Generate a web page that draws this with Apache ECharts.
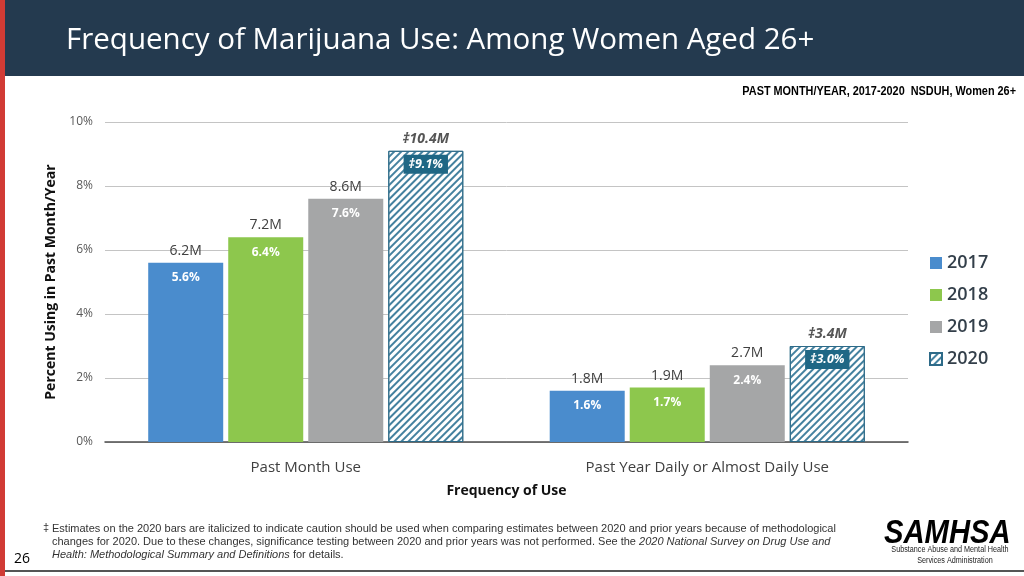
<!DOCTYPE html>
<html>
<head>
<meta charset="utf-8">
<script src="https://cdn.jsdelivr.net/npm/echarts@6/dist/echarts.min.js"></script>
<style>
html,body{margin:0;padding:0;background:#fff;}
#chart{width:1024px;height:576px;}
</style>
</head>
<body>
<div id="chart"></div>
<script>
const categories = ['Past Month Use', 'Past Year Daily or Almost Daily Use'];
const years = ['2017', '2018', '2019', '2020'];
const pct2017 = [5.6, 1.6];
const pct2018 = [6.4, 1.7];
const pct2019 = [7.6, 2.4];
const pct2020 = [9.1, 3.0];
const cnt2017 = ['6.2M', '1.8M'];
const cnt2018 = ['7.2M', '1.9M'];
const cnt2019 = ['8.6M', '2.7M'];
const cnt2020 = ['10.4M', '3.4M'];
const yTicks = [0, 2, 4, 6, 8, 10];

const pcts = [pct2017, pct2018, pct2019, pct2020];
const cnts = [cnt2017, cnt2018, cnt2019, cnt2020];
const colors = ['#4a8ccd', '#8dc74d', '#a5a6a7', '#ffffff'];
const FONT = 'Open Sans';

const hatch = {
  symbol: 'rect', symbolSize: 1, dashArrayX: [1, 0], dashArrayY: [1.3, 3],
  rotation: -Math.PI / 4, color: '#44819f'
};

const series = [];
years.forEach((y, i) => {
  const is2020 = i === 3;
  series.push({
    name: y, type: 'bar', xAxisIndex: 0, barWidth: 75, barGap: '6.7%',
    data: pcts[i],
    itemStyle: is2020
      ? { color: '#ffffff', borderColor: '#2d6a88', borderWidth: 1, decal: hatch }
      : { color: colors[i] },
    label: {
      show: true, position: 'insideTop',
      distance: is2020 ? 4 : 9,
      formatter: p => (is2020 ? '‡' : '') + p.value.toFixed(1) + '%',
      color: '#ffffff', fontFamily: FONT, fontWeight: 'bold', fontSize: is2020 ? 12.5 : 12,
      fontStyle: is2020 ? 'italic' : 'normal',
      backgroundColor: is2020 ? '#1f6785' : 'transparent',
      padding: is2020 ? [3, 5] : 0
    },
    emphasis: { disabled: true }
  });
});
years.forEach((y, i) => {
  const is2020 = i === 3;
  series.push({
    name: 'cnt' + y, type: 'bar', xAxisIndex: 1, barWidth: 75, barGap: '6.7%',
    data: pcts[i],
    itemStyle: { color: 'rgba(0,0,0,0)' },
    label: {
      show: true, position: 'top', distance: 5,
      formatter: p => (is2020 ? '‡' : '') + cnts[i][p.dataIndex],
      color: is2020 ? '#555555' : '#404040', fontFamily: FONT, fontSize: 14,
      fontStyle: is2020 ? 'italic' : 'normal',
      fontWeight: is2020 ? 'bold' : 'normal'
    },
    silent: true,
    emphasis: { disabled: true }
  });
});

const chart = echarts.init(document.getElementById('chart'));
chart.setOption({
  animation: false,
  backgroundColor: '#ffffff',
  textStyle: { fontFamily: FONT },
  grid: { left: 105, right: 116, top: 122, bottom: 134, containLabel: false },
  legend: {
    data: years, orient: 'vertical', left: 929, top: 254, padding: 0,
    itemWidth: 12, itemHeight: 12, itemGap: 14, icon: 'rect',
    textStyle: { fontFamily: FONT, fontSize: 18, fontWeight: 600, color: '#333f4a' }
  },
  xAxis: [{
    type: 'category', data: categories,
    axisTick: { show: false },
    axisLine: { lineStyle: { color: '#4d4d4d', width: 1.5 } },
    axisLabel: { color: '#404040', fontSize: 15, fontFamily: FONT, margin: 18 },
    name: 'Frequency of Use', nameLocation: 'middle', nameGap: 42,
    nameTextStyle: { color: '#111', fontSize: 14, fontWeight: 'bold', fontFamily: FONT }
  }, {
    type: 'category', data: categories, show: false
  }],
  yAxis: {
    type: 'value', min: 0, max: 10, interval: 2,
    axisLabel: { formatter: '{value}%', color: '#595959', fontSize: 12, fontFamily: FONT, margin: 12 },
    splitLine: { lineStyle: { color: '#c4c4c4', width: 1 } },
    axisLine: { show: false }, axisTick: { show: false },
    name: 'Percent Using in Past Month/Year', nameLocation: 'middle', nameGap: 33,
    nameTextStyle: { color: '#111', fontSize: 14, fontWeight: 'bold', fontFamily: FONT }
  },
  series: series,
  graphic: [
    { type: 'rect', z: -10, shape: { x: 0, y: 0, width: 1024, height: 76 }, style: { fill: '#243a4f' } },
    { type: 'rect', z: 10, shape: { x: 0, y: 0, width: 5, height: 576 }, style: { fill: '#d13b35' } },
    { type: 'line', shape: { x1: 5, y1: 571, x2: 1024, y2: 571 }, style: { stroke: '#555', lineWidth: 2 } },
    { type: 'text', left: 66, top: 26, style: { text: 'Frequency of Marijuana Use: Among Women Aged 26+', fill: '#ffffff', font: '500 29.5px "Open Sans"' } },
    { type: 'text', x: 1016, y: 92, scaleX: 0.87, style: { text: 'PAST MONTH/YEAR, 2017-2020  NSDUH, Women 26+', align: 'right', verticalAlign: 'middle', fill: '#000', font: 'bold 12.5px "Liberation Sans"' } },
    { type: 'text', left: 43, top: 522, style: { text: '‡', fill: '#333', font: '11px "Liberation Sans"' } },
    { type: 'text', left: 52, top: 522, style: {
      text: 'Estimates on the 2020 bars are italicized to indicate caution should be used when comparing estimates between 2020 and prior years because of methodological\n' +
            'changes for 2020. Due to these changes, significance testing between 2020 and prior years was not performed. See the {i|2020 National Survey on Drug Use and}\n' +
            '{i|Health: Methodological Summary and Definitions} for details.',
      fill: '#333', font: '11px "Liberation Sans"', lineHeight: 13,
      rich: { i: { fontStyle: 'italic', fill: '#333', fontSize: 11, fontFamily: 'Liberation Sans', lineHeight: 13 } }
    } },
    { type: 'text', left: 14, top: 552, style: { text: '26', fill: '#000', font: '14px "Open Sans"' } },
    { type: 'text', x: 884, y: 517, scaleX: 0.86, style: { text: 'SAMHSA', verticalAlign: 'top', fill: '#000', font: 'italic bold 34px "Liberation Sans"' } },
    { type: 'text', x: 950, y: 550, scaleX: 0.85, style: { text: 'Substance Abuse and Mental Health', align: 'center', verticalAlign: 'middle', fill: '#222', font: '8.5px "Liberation Sans"' } },
    { type: 'text', x: 955, y: 561, scaleX: 0.85, style: { text: 'Services Administration', align: 'center', verticalAlign: 'middle', fill: '#222', font: '8.5px "Liberation Sans"' } }
  ]
});
</script>
</body>
</html>
